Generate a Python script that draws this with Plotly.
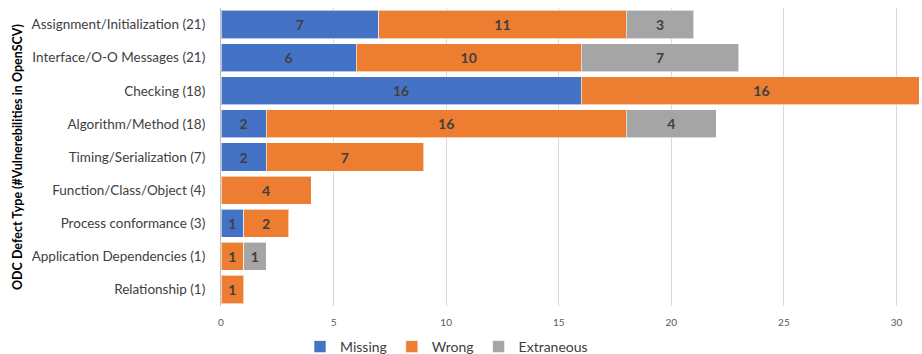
import plotly.graph_objects as go

categories = [
    "Assignment/Initialization (21)",
    "Interface/O-O Messages (21)",
    "Checking (18)",
    "Algorithm/Method (18)",
    "Timing/Serialization (7)",
    "Function/Class/Object (4)",
    "Process conformance (3)",
    "Application Dependencies (1)",
    "Relationship (1)",
]
missing = [7, 6, 16, 2, 2, None, 1, None, None]
wrong = [11, 10, 16, 16, 7, 4, 2, 1, 1]
extraneous = [3, 7, None, 4, None, None, None, 1, None]

series = [("Missing", missing, "#4472C4"),
          ("Wrong", wrong, "#ED7D31"),
          ("Extraneous", extraneous, "#A5A5A5")]

FONT = "Lato, Carlito, Calibri, sans-serif"

fig = go.Figure()
for name, vals, color in series:
    fig.add_trace(go.Bar(
        y=categories, x=vals, name=name, orientation="h",
        marker=dict(color=color, line=dict(color="rgba(255,255,255,0.6)", width=1)),
        text=[("" if v is None else str(v)) for v in vals],
        textposition="inside", insidetextanchor="middle",
        textfont=dict(family=FONT, size=14, color="#404040", weight="bold"),
        constraintext="none", cliponaxis=True,
    ))

fig.update_layout(
    barmode="stack", bargap=0.15,
    width=922, height=354,
    margin=dict(l=221, r=3, t=8, b=48, autoexpand=False),
    paper_bgcolor="white", plot_bgcolor="white",
    font=dict(family=FONT, color="#404040"),
    legend=dict(orientation="h", xref="container", yref="container",
                x=300/922, y=(354-347)/354, xanchor="left", yanchor="middle",
                font=dict(size=14, color="#404040"), traceorder="normal",
                itemwidth=30, tracegroupgap=0, bgcolor="rgba(0,0,0,0)"),
    xaxis=dict(range=[0, 31], dtick=5, showgrid=True, gridcolor="#D9D9D9", gridwidth=1,
               zeroline=False, showline=False, ticks="", ticklabelstandoff=9,
               tickfont=dict(size=10, color="#595959")),
    yaxis=dict(autorange="reversed", showline=True, linecolor="#BFBFBF", linewidth=1,
               ticks="", ticklabelstandoff=12, tickfont=dict(size=13.5, color="#404040"),
               title=dict(text="<b>ODC Defect Type (#Vulnerebilities in OpenSCV)</b>",
                          font=dict(size=12.5, color="#000000"), standoff=6)),
)

fig.write_html("out.html")
